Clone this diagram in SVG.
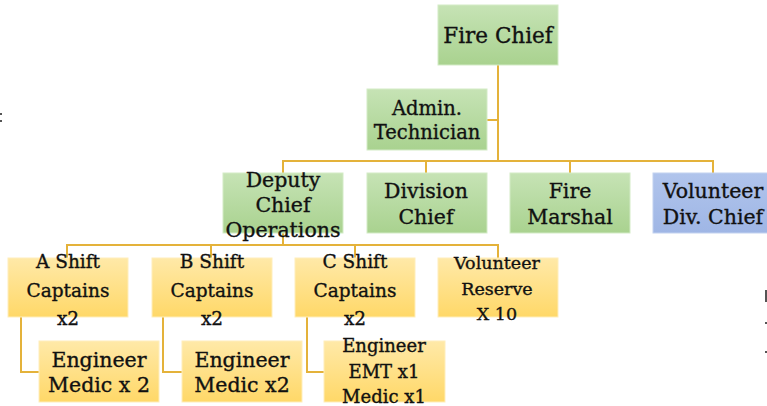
<svg xmlns="http://www.w3.org/2000/svg" width="767" height="406" viewBox="0 0 767 406">
  <defs>
    <linearGradient id="gGreen" x1="0" y1="0" x2="0" y2="1">
      <stop offset="0" stop-color="#c6e3b5"/>
      <stop offset="1" stop-color="#a9d28f"/>
    </linearGradient>
    <linearGradient id="gYellow" x1="0" y1="0" x2="0" y2="1">
      <stop offset="0" stop-color="#ffe9a8"/>
      <stop offset="1" stop-color="#ffd868"/>
    </linearGradient>
    <linearGradient id="gBlue" x1="0" y1="0" x2="0" y2="1">
      <stop offset="0" stop-color="#b0c4ec"/>
      <stop offset="1" stop-color="#9fb6e5"/>
    </linearGradient>
  </defs>
  <style>
    .green { fill: url(#gGreen); stroke: #d3ebc6; stroke-width: 1; }
    .yellow { fill: url(#gYellow); stroke: #ffeebb; stroke-width: 1; }
    .blue { fill: url(#gBlue); stroke: #c2d2f0; stroke-width: 1; }
    text { font-family: "DejaVu Serif", "Liberation Serif", serif; fill: #111; stroke: #111; stroke-width: 0.35; text-anchor: middle; }
    .t20 { font-size: 20.5px; }
    .t19 { font-size: 19.5px; }
    .t185 { font-size: 18.5px; }
    .t175 { font-size: 17.5px; }
    .t18 { font-size: 18px; }
    .wire { fill: none; stroke: #e4b23a; stroke-width: 2; }
    .speck { fill: #555; }
  </style>

  <!-- connectors -->
  <g id="connectors">
    <path class="wire" d="M498,65 V161"/>
    <path class="wire" d="M487,120 H498"/>
    <path class="wire" d="M283,173 V161 H713 V173"/>
    <path class="wire" d="M426,161 V173"/>
    <path class="wire" d="M570,161 V173"/>
    <path class="wire" d="M283,233 V245"/>
    <path class="wire" d="M67,258 V245 H498 V258"/>
    <path class="wire" d="M211,245 V258"/>
    <path class="wire" d="M355,245 V258"/>
    <path class="wire" d="M21,317 V372 H39"/>
    <path class="wire" d="M163,317 V372 H182"/>
    <path class="wire" d="M307,317 V372 H324"/>
  </g>

  <!-- top level -->
  <g id="fire-chief">
    <rect class="green" x="438" y="5" width="120" height="60"/>
    <text x="498" y="43" font-size="21.5">Fire Chief</text>
  </g>
  <g id="admin-technician">
    <rect class="green" x="367" y="89" width="120" height="61"/>
    <text class="t19" x="427" y="115">Admin.</text>
    <text class="t19" x="427" y="139">Technician</text>
  </g>

  <!-- second level -->
  <g id="deputy-chief">
    <rect class="green" x="223" y="173" width="120" height="60"/>
    <text class="t20" x="283" y="187">Deputy</text>
    <text class="t20" x="283" y="212">Chief</text>
    <text class="t20" x="283" y="237">Operations</text>
  </g>
  <g id="division-chief">
    <rect class="green" x="367" y="173" width="120" height="60"/>
    <text class="t20" x="426" y="198">Division</text>
    <text class="t20" x="426" y="224">Chief</text>
  </g>
  <g id="fire-marshal">
    <rect class="green" x="510" y="173" width="120" height="60"/>
    <text class="t20" x="570" y="198">Fire</text>
    <text class="t20" x="570" y="224">Marshal</text>
  </g>
  <g id="volunteer-div-chief">
    <rect class="blue" x="653" y="173" width="120" height="60"/>
    <text class="t20" x="713" y="198">Volunteer</text>
    <text class="t20" x="713" y="224">Div. Chief</text>
  </g>

  <!-- shift captains -->
  <g id="a-shift">
    <rect class="yellow" x="8" y="258" width="120" height="59"/>
    <text class="t185" x="68" y="268">A Shift</text>
    <text class="t185" x="68" y="297">Captains</text>
    <text class="t185" x="68" y="325">x2</text>
  </g>
  <g id="b-shift">
    <rect class="yellow" x="152" y="258" width="120" height="59"/>
    <text class="t185" x="212" y="268">B Shift</text>
    <text class="t185" x="212" y="297">Captains</text>
    <text class="t185" x="212" y="325">x2</text>
  </g>
  <g id="c-shift">
    <rect class="yellow" x="295" y="258" width="120" height="59"/>
    <text class="t185" x="355" y="268">C Shift</text>
    <text class="t185" x="355" y="297">Captains</text>
    <text class="t185" x="355" y="325">x2</text>
  </g>
  <g id="volunteer-reserve">
    <rect class="yellow" x="438" y="258" width="120" height="59"/>
    <text class="t175" x="497" y="269">Volunteer</text>
    <text class="t175" x="497" y="295">Reserve</text>
    <text class="t175" x="497" y="320">X 10</text>
  </g>

  <!-- crews -->
  <g id="a-crew">
    <rect class="yellow" x="39" y="341" width="120" height="61"/>
    <text class="t20" x="99" y="367">Engineer</text>
    <text class="t20" x="99" y="392">Medic x 2</text>
  </g>
  <g id="b-crew">
    <rect class="yellow" x="182" y="341" width="120" height="61"/>
    <text class="t20" x="242" y="367">Engineer</text>
    <text class="t20" x="242" y="392">Medic x2</text>
  </g>
  <g id="c-crew">
    <rect class="yellow" x="324" y="341" width="121" height="61"/>
    <text class="t18" x="384" y="352">Engineer</text>
    <text class="t18" x="384" y="378">EMT x1</text>
    <text class="t18" x="384" y="403">Medic x1</text>
  </g>

  <!-- edge marks -->
  <g id="edge-marks">
    <rect class="speck" x="0" y="113" width="2" height="2"/>
    <rect class="speck" x="0" y="120" width="2" height="2"/>
    <rect class="speck" x="765" y="290" width="2" height="12"/>
    <rect class="speck" x="765" y="322" width="2" height="2"/>
    <rect class="speck" x="765" y="351" width="2" height="2"/>
  </g>
</svg>
